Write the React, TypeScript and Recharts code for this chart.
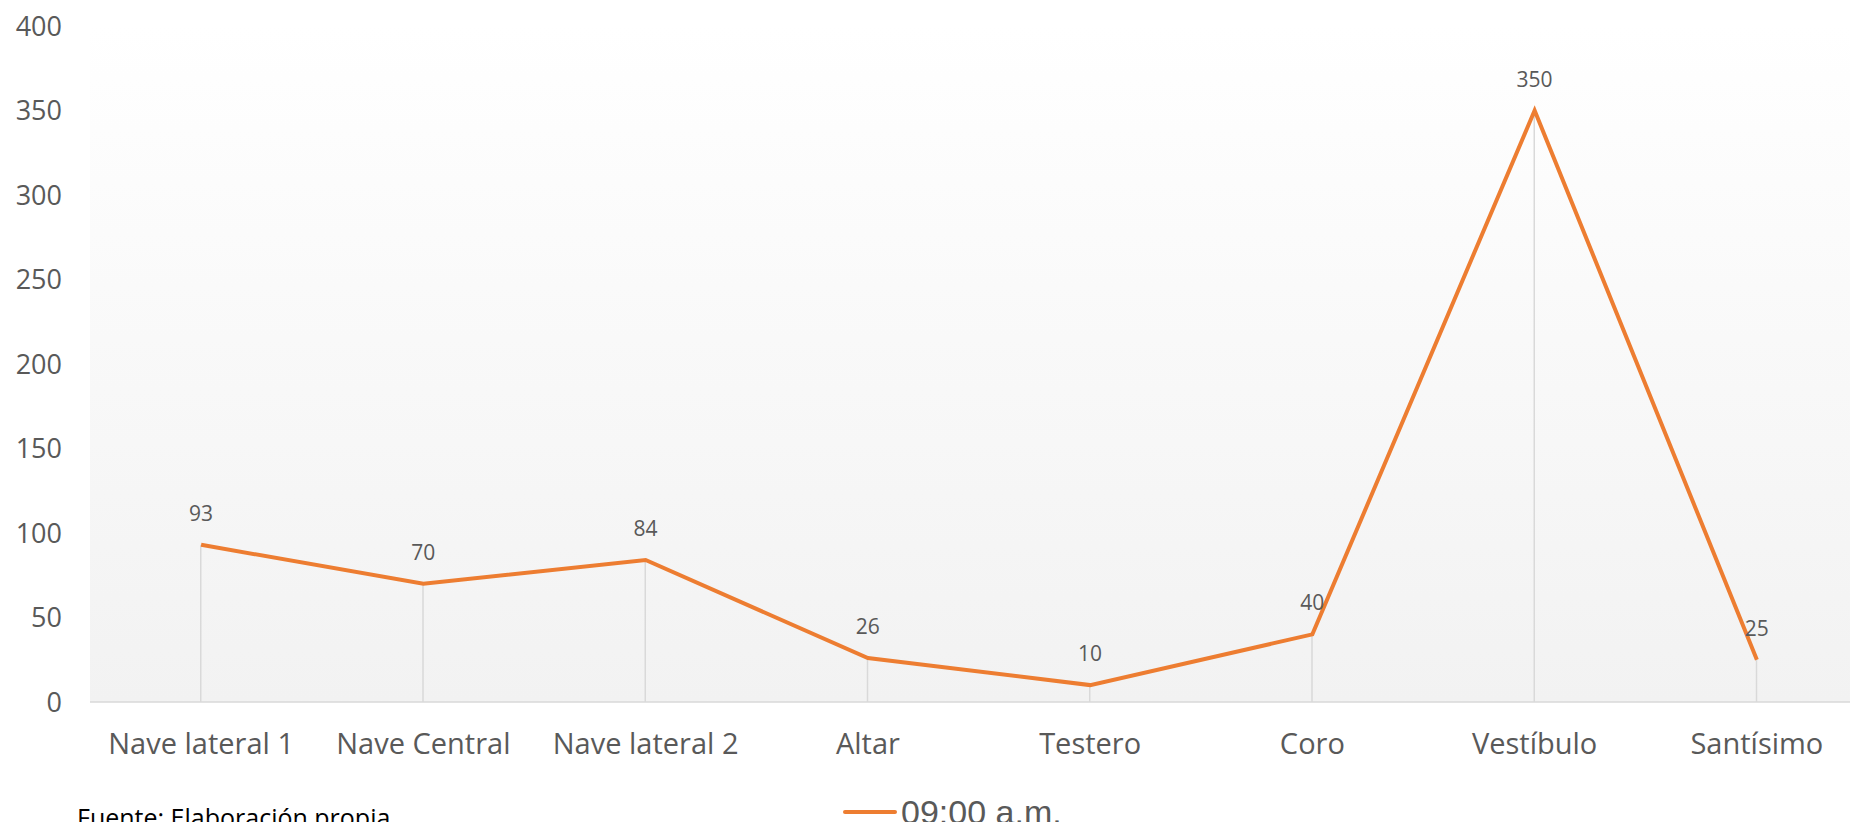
import React from 'react';
import { ComposedChart, Line, Bar, XAxis, YAxis, CartesianGrid, LabelList } from 'recharts';

const categories = ['Nave lateral 1', 'Nave Central', 'Nave lateral 2', 'Altar', 'Testero', 'Coro', 'Vestíbulo', 'Santísimo'];
const values0900 = [93, 70, 84, 26, 10, 40, 350, 25];
const yTicks = [0, 50, 100, 150, 200, 250, 300, 350, 400];
const seriesName = '09:00 a.m.';
const sourceNote = 'Fuente: Elaboración propia';

const data = categories.map((c, i) => ({ name: c, value: values0900[i] }));

const FONT = '"Open Sans", "Noto Sans", sans-serif';

export default function App() {
  return (
    <div style={{ position: 'absolute', left: 0, top: 0, width: 1850, height: 822, overflow: 'hidden', background: '#fff' }}>
      <ComposedChart
        width={1868}
        height={822}
        data={data}
        margin={{ top: 26, right: 0, bottom: 50, left: 0 }}
      >
        <defs>
          <linearGradient id="bgGrad" x1="0" y1="0" x2="0" y2="1">
            <stop offset="0%" stopColor="#ffffff" />
            <stop offset="100%" stopColor="#f2f2f2" />
          </linearGradient>
        </defs>
        <CartesianGrid horizontal={false} vertical={false} fill="url(#bgGrad)" />
        <XAxis
          dataKey="name"
          axisLine={{ stroke: '#d9d9d9', strokeWidth: 1.5 }}
          tickLine={false}
          tickSize={0}
          tickMargin={31}
          height={70}
          tick={{ fill: '#595959', fontSize: 29, fontFamily: FONT }}
          interval={0}
        />
        <YAxis
          domain={[0, 400]}
          ticks={yTicks}
          width={90}
          axisLine={false}
          tickLine={false}
          tickSize={0}
          tickMargin={28}
          tick={{ fill: '#595959', fontSize: 27, fontFamily: FONT }}
        />
        <Bar dataKey="value" barSize={1.5} fill="#d9d9d9" isAnimationActive={false} />
        <Line
          type="linear"
          dataKey="value"
          name={seriesName}
          stroke="#ED7D31"
          strokeWidth={4}
          dot={false}
          activeDot={false}
          isAnimationActive={false}
        >
          <LabelList dataKey="value" position="top" offset={24} fill="#595959" fontSize={21} fontFamily={FONT} />
        </Line>
      </ComposedChart>
      <div style={{ position: 'absolute', left: 843, top: 793, display: 'flex', alignItems: 'center', height: 38 }}>
        <div style={{ width: 54, height: 4, background: '#ED7D31', borderRadius: 2 }} />
        <span style={{ marginLeft: 4, fontFamily: '"Liberation Sans", Arial, sans-serif', fontSize: 34, color: '#595959', lineHeight: '38px' }}>{seriesName}</span>
      </div>
      <div style={{ position: 'absolute', left: 77, top: 800, fontFamily: FONT, fontSize: 25, color: '#000', lineHeight: '34px', whiteSpace: 'nowrap' }}>
        {sourceNote}
      </div>
    </div>
  );
}
